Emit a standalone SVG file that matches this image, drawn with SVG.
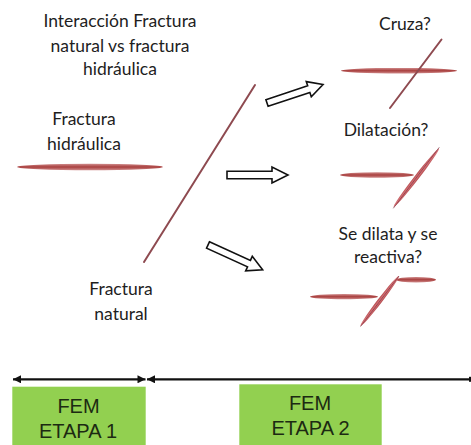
<svg xmlns="http://www.w3.org/2000/svg" width="471" height="445" viewBox="0 0 471 445">
<style>
.lbl{font-family:Lato,"Open Sans",sans-serif;font-size:17.5px;fill:#1e1e1e;text-anchor:middle}
.box{fill:#92d050}
.btxt{font-family:"Liberation Sans",Arial,sans-serif;font-size:20px;fill:#1c2a12;text-anchor:middle}
.barr{fill:#fff;stroke:#111;stroke-width:1.6;stroke-linejoin:miter}
.nat{stroke:#8e4a50;stroke-width:2;stroke-linecap:round;fill:none}
.hyd{fill:url(#hg)}
.dil{fill:url(#dg)}
.tl{stroke:#111;stroke-width:2.2;fill:none}
</style>
<defs>
<linearGradient id="hg" x1="0" y1="0" x2="0" y2="1">
<stop offset="0" stop-color="#d08c8c"/>
<stop offset="0.5" stop-color="#a9403f"/>
<stop offset="1" stop-color="#d08c8c"/>
</linearGradient>
<linearGradient id="dg" x1="0" y1="0" x2="1" y2="0">
<stop offset="0" stop-color="#b04a4d"/>
<stop offset="0.5" stop-color="#e07a7e"/>
<stop offset="1" stop-color="#b04a4d"/>
</linearGradient>
<marker id="ah" viewBox="0 0 10 10" refX="10" refY="5" markerWidth="9" markerHeight="8" markerUnits="userSpaceOnUse" orient="auto-start-reverse">
<path d="M0,0 L10,5 L0,10 Z" fill="#111"/>
</marker>
<marker id="bar" viewBox="0 0 4 10" refX="2" refY="5" markerWidth="2" markerHeight="8" markerUnits="userSpaceOnUse" orient="auto">
<rect x="0" y="0" width="4" height="10" fill="#111"/>
</marker>
</defs>

<g id="title">
<text class="lbl" x="120" y="27">Interacción Fractura</text>
<text class="lbl" x="120" y="52">natural vs fractura</text>
<text class="lbl" x="120" y="75">hidráulica</text>
</g>

<g id="fractura-hidraulica">
<text class="lbl" x="84" y="125">Fractura</text>
<text class="lbl" x="84" y="150">hidráulica</text>
<ellipse class="hyd" cx="90" cy="167" rx="73" ry="3.2"/>
</g>

<g id="fractura-natural">
<line class="nat" x1="255" y1="85" x2="144" y2="262"/>
<text class="lbl" x="121" y="295">Fractura</text>
<text class="lbl" x="121" y="320">natural</text>
</g>

<g id="cruza">
<text class="lbl" x="405" y="30">Cruza?</text>
<ellipse class="hyd" cx="399" cy="70.7" rx="58" ry="2.8"/>
<line class="nat" x1="441.5" y1="39.5" x2="390" y2="108" stroke="#7a3c4a" stroke-width="1.8"/>
</g>

<g id="dilatacion">
<text class="lbl" x="386" y="136">Dilatación?</text>
<ellipse class="hyd" cx="377" cy="175" rx="37" ry="2.8"/>
<ellipse class="dil" cx="0" cy="0" rx="2.3" ry="37" transform="translate(416.3,177.8) rotate(37.8)"/>
<line x1="439.3" y1="147.3" x2="393.3" y2="208.3" stroke="#7a3040" stroke-width="0.7"/>
</g>

<g id="reactiva">
<text class="lbl" x="388" y="240">Se dilata y se</text>
<text class="lbl" x="388" y="263">reactiva?</text>
<ellipse class="hyd" cx="344" cy="296.7" rx="34" ry="2.6"/>
<ellipse class="hyd" cx="416" cy="279.7" rx="20" ry="2.8"/>
<ellipse class="dil" cx="0" cy="0" rx="2.3" ry="31.5" transform="translate(379.7,301) rotate(37.5)"/>
<line x1="399" y1="276" x2="360.5" y2="326.5" stroke="#7a3040" stroke-width="0.7"/>
</g>

<g id="connectors">
<path class="barr" d="M0,-3.5 H44 V-8 L59,0 L44,8 V3.5 H0 Z" transform="translate(267,103) rotate(-18.3)"/>
<path class="barr" d="M0,-3.8 H45 V-8 L61,0 L45,8 V3.8 H0 Z" transform="translate(227,175)"/>
<path class="barr" d="M0,-3.5 H45 V-8 L60,0 L45,8 V3.5 H0 Z" transform="translate(208,245) rotate(24.4)"/>
<line class="tl" x1="13" y1="379.3" x2="145.5" y2="379.3" marker-start="url(#ah)" marker-end="url(#ah)"/>
<line class="tl" x1="147" y1="379.3" x2="470" y2="379.3" marker-start="url(#ah)" marker-end="url(#bar)"/>
</g>

<g id="fem-etapa-1">
<rect class="box" x="12.3" y="386.7" width="133.4" height="58.3"/>
<text class="btxt" x="78.5" y="413">FEM</text>
<text class="btxt" x="78" y="438">ETAPA 1</text>
</g>

<g id="fem-etapa-2">
<rect class="box" x="239.3" y="384.3" width="142.4" height="60.7"/>
<text class="btxt" x="310" y="410">FEM</text>
<text class="btxt" x="310.5" y="435">ETAPA 2</text>
</g>
</svg>
